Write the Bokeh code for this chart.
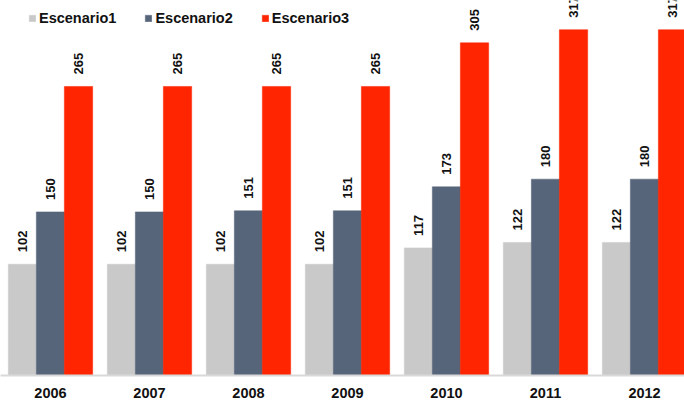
import numpy as np
from bokeh.plotting import figure
from bokeh.models import ColumnDataSource, Range1d, FixedTicker, Legend, LegendItem
from bokeh.core.properties import value
from bokeh.embed import file_html
from bokeh.resources import INLINE

years = ["2006", "2007", "2008", "2009", "2010", "2011", "2012"]
escenario1 = [102, 102, 102, 102, 117, 122, 122]
escenario2 = [150, 150, 151, 151, 173, 180, 180]
escenario3 = [265, 265, 265, 265, 305, 317, 317]
series_names = ["Escenario1", "Escenario2", "Escenario3"]
colors = ["#C9C9C9", "#56657A", "#FF2500"]

xs = np.arange(len(years))
FONT = "Liberation Sans"

p = figure(width=684, height=403, output_backend="svg", toolbar_location=None,
           x_range=Range1d(-0.505, 6.404), y_range=Range1d(0, 343.8),
           min_border_left=0, min_border_right=0, min_border_top=0, min_border_bottom=28)
p.outline_line_color = None
p.xgrid.grid_line_color = None
p.ygrid.grid_line_color = None
p.yaxis.visible = False
p.background_fill_color = None
p.border_fill_color = None

offsets = [-0.283, 0.0, 0.283]
bw = 0.286
renderers = []
for vals, off, col in zip([escenario1, escenario2, escenario3], offsets, colors):
    src = ColumnDataSource(dict(x=xs + off, top=vals, lab=[str(v) for v in vals]))
    r = p.vbar(x="x", top="top", bottom=0, width=bw, source=src,
               fill_color=col, line_color=col, line_width=0.5)
    renderers.append(r)
    p.text(x="x", y="top", text="lab", source=src, angle=np.pi / 2, y_offset=-12,
           text_align="left", text_baseline="middle",
           text_font=value(FONT), text_font_style="bold", text_font_size="13px",
           text_color="#111111")

ax = p.xaxis[0]
ax.ticker = FixedTicker(ticks=list(xs))
ax.major_label_overrides = {int(i): y for i, y in zip(xs, years)}
ax.major_tick_line_color = None
ax.minor_tick_line_color = None
ax.major_tick_out = 0
ax.major_tick_in = 0
ax.axis_line_color = "#D9D9D9"
ax.axis_line_width = 2
ax.major_label_standoff = 12
ax.major_label_text_font = FONT
ax.major_label_text_font_style = "bold"
ax.major_label_text_font_size = "14.5px"
ax.major_label_text_color = "#111111"

legend = Legend(items=[LegendItem(label=n, renderers=[r]) for n, r in zip(series_names, renderers)],
                orientation="horizontal", location=(28, 349),
                glyph_width=8, glyph_height=8, label_standoff=3, spacing=28,
                padding=0, margin=0, border_line_color=None,
                background_fill_alpha=0,
                label_text_font=FONT, label_text_font_style="bold",
                label_text_font_size="14.5px", label_text_color="#111111")
p.add_layout(legend)

open("out.html", "w").write(file_html(p, INLINE))
